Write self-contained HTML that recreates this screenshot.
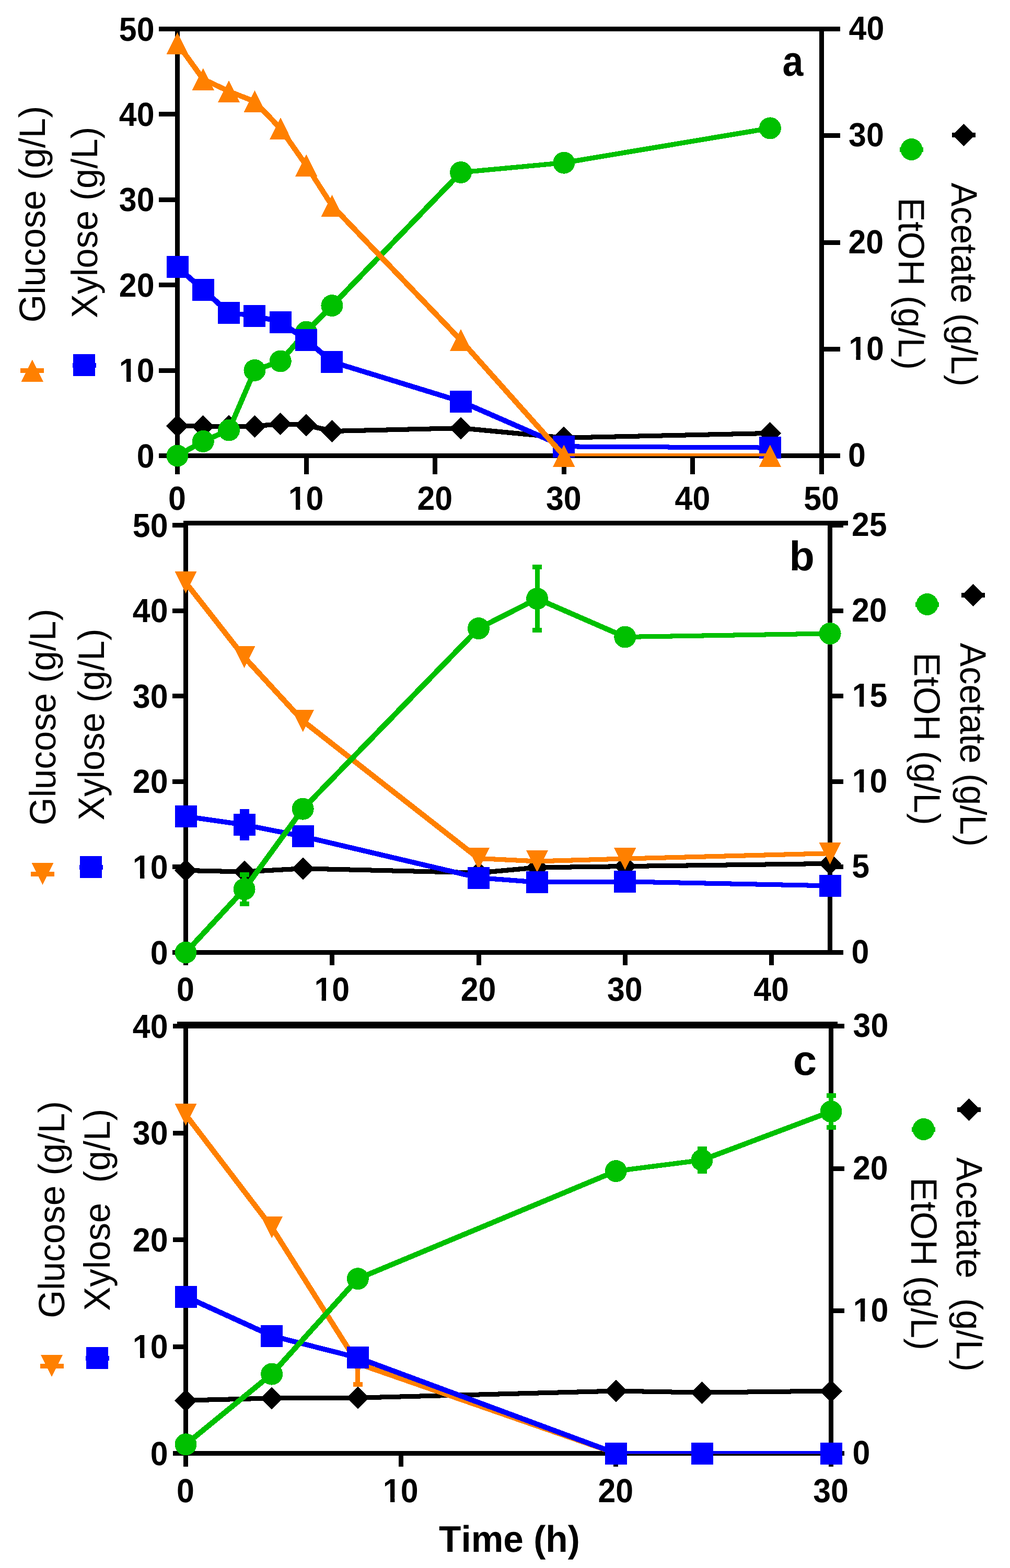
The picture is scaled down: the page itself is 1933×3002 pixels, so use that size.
<!DOCTYPE html>
<html lang="en"><head><meta charset="utf-8"><title>Fermentation time courses</title>
<style>
html,body{margin:0;padding:0;background:#fff;}
body{width:1933px;height:3002px;overflow:hidden;}
svg{display:block;font-family:"Liberation Sans",sans-serif;font-kerning:none;font-variant-ligatures:none;}
text{fill:#000;white-space:pre;}
</style></head><body>
<svg width="1933" height="3002" viewBox="0 0 1933 3002" shape-rendering="crispEdges" text-rendering="geometricPrecision">
<rect x="0" y="0" width="1933" height="3002" fill="#fff"/>
<g id="panel-a">
<clipPath id="clipA"><rect x="309.5" y="-4.5" width="1293" height="878"/></clipPath>
<rect x="335" y="51" width="9" height="857" fill="#000000"/>
<rect x="1568" y="51" width="9" height="857" fill="#000000"/>
<rect x="304" y="868" width="1304" height="9" fill="#000000"/>
<rect x="304" y="51" width="1304" height="9" fill="#000000"/>
<rect x="335" y="872.5" width="9" height="35.5" fill="#000000"/>
<text transform="translate(322.09 975.5) scale(0.9500 1.0000)" font-size="64" font-weight="bold">0</text>
<rect x="581.6" y="872.5" width="9" height="35.5" fill="#000000"/>
<text transform="translate(551.79 975.5) scale(0.9500 1.0000)" font-size="64" font-weight="bold">10</text>
<path d="M554.75,966.12H565.98V977H554.75ZM574.32,966.12H584.74V977H574.32Z" fill="#fff" shape-rendering="geometricPrecision"/>
<rect x="828.2" y="872.5" width="9" height="35.5" fill="#000000"/>
<text transform="translate(798.39 975.5) scale(0.9500 1.0000)" font-size="64" font-weight="bold">20</text>
<rect x="1074.8" y="872.5" width="9" height="35.5" fill="#000000"/>
<text transform="translate(1044.99 975.5) scale(0.9500 1.0000)" font-size="64" font-weight="bold">30</text>
<rect x="1321.4" y="872.5" width="9" height="35.5" fill="#000000"/>
<text transform="translate(1291.59 975.5) scale(0.9500 1.0000)" font-size="64" font-weight="bold">40</text>
<rect x="1568" y="872.5" width="9" height="35.5" fill="#000000"/>
<text transform="translate(1538.19 975.5) scale(0.9500 1.0000)" font-size="64" font-weight="bold">50</text>
<rect x="304" y="868" width="35.5" height="9" fill="#000000"/>
<text transform="translate(261.68 894.5) scale(0.9500 1.0000)" font-size="64" font-weight="bold">0</text>
<rect x="304" y="704.6" width="35.5" height="9" fill="#000000"/>
<text transform="translate(227.87 731.1) scale(0.9500 1.0000)" font-size="64" font-weight="bold">10</text>
<path d="M230.83,721.73H242.06V732.6H230.83ZM250.4,721.73H260.82V732.6H250.4Z" fill="#fff" shape-rendering="geometricPrecision"/>
<rect x="304" y="541.2" width="35.5" height="9" fill="#000000"/>
<text transform="translate(227.87 567.7) scale(0.9500 1.0000)" font-size="64" font-weight="bold">20</text>
<rect x="304" y="377.8" width="35.5" height="9" fill="#000000"/>
<text transform="translate(227.87 404.3) scale(0.9500 1.0000)" font-size="64" font-weight="bold">30</text>
<rect x="304" y="214.4" width="35.5" height="9" fill="#000000"/>
<text transform="translate(227.87 240.9) scale(0.9500 1.0000)" font-size="64" font-weight="bold">40</text>
<rect x="304" y="51" width="35.5" height="9" fill="#000000"/>
<text transform="translate(227.87 77.5) scale(0.9500 1.0000)" font-size="64" font-weight="bold">50</text>
<rect x="1572.5" y="868" width="35.5" height="9" fill="#000000"/>
<text transform="translate(1623.1 893) scale(0.9500 1.0000)" font-size="64" font-weight="bold">0</text>
<rect x="1572.5" y="663.75" width="35.5" height="9" fill="#000000"/>
<text transform="translate(1624.17 688.75) scale(0.9500 1.0000)" font-size="64" font-weight="bold">10</text>
<path d="M1627.14,679.38H1638.36V690.25H1627.14ZM1646.7,679.38H1657.12V690.25H1646.7Z" fill="#fff" shape-rendering="geometricPrecision"/>
<rect x="1572.5" y="459.5" width="35.5" height="9" fill="#000000"/>
<text transform="translate(1623.39 484.5) scale(0.9500 1.0000)" font-size="64" font-weight="bold">20</text>
<rect x="1572.5" y="255.25" width="35.5" height="9" fill="#000000"/>
<text transform="translate(1624.1 280.25) scale(0.9500 1.0000)" font-size="64" font-weight="bold">30</text>
<rect x="1572.5" y="51" width="35.5" height="9" fill="#000000"/>
<text transform="translate(1624.58 76) scale(0.9500 1.0000)" font-size="64" font-weight="bold">40</text>
<g stroke="#000000" fill="none" stroke-linecap="butt" clip-path="url(#clipA)">
<path d="M339.5,815.31L388.82,816.33" stroke-width="9.06"/>
<path d="M388.82,816.33L438.14,816.13" stroke-width="9.01"/>
<path d="M438.14,816.13L487.46,816.13" stroke-width="9"/>
<path d="M487.46,816.13L536.78,811.43" stroke-width="9.26"/>
<path d="M536.78,811.43L586.1,813.68" stroke-width="9.13"/>
<path d="M586.1,813.68L635.42,825.52" stroke-width="9.64"/>
<path d="M635.42,825.52L882.02,819.6" stroke-width="9.07"/>
<path d="M882.02,819.6L1079.3,838.19" stroke-width="9.26"/>
<path d="M1079.3,838.19L1473.86,829.4" stroke-width="9.06"/>
</g>
<polygon points="339.5,793.81 361,815.31 339.5,836.81 318,815.31" fill="#000000"/>
<polygon points="388.82,794.83 410.32,816.33 388.82,837.83 367.32,816.33" fill="#000000"/>
<polygon points="438.14,794.63 459.64,816.13 438.14,837.63 416.64,816.13" fill="#000000"/>
<polygon points="487.46,794.63 508.96,816.13 487.46,837.63 465.96,816.13" fill="#000000"/>
<polygon points="536.78,789.93 558.28,811.43 536.78,832.93 515.28,811.43" fill="#000000"/>
<polygon points="586.1,792.18 607.6,813.68 586.1,835.18 564.6,813.68" fill="#000000"/>
<polygon points="635.42,804.02 656.92,825.52 635.42,847.02 613.92,825.52" fill="#000000"/>
<polygon points="882.02,798.1 903.52,819.6 882.02,841.1 860.52,819.6" fill="#000000"/>
<polygon points="1079.3,816.69 1100.8,838.19 1079.3,859.69 1057.8,838.19" fill="#000000"/>
<polygon points="1473.86,807.9 1495.36,829.4 1473.86,850.9 1452.36,829.4" fill="#000000"/>
<g stroke="#00C000" fill="none" stroke-linecap="butt" clip-path="url(#clipA)">
<path d="M339.5,872.5L388.82,844.93" stroke-width="10.19"/>
<path d="M388.82,844.93L438.14,823.48" stroke-width="10.02"/>
<path d="M438.14,823.48L487.46,708.9" stroke-width="10.02"/>
<path d="M487.46,708.9L536.78,691.53" stroke-width="9.88"/>
<path d="M536.78,691.53L586.1,635.57" stroke-width="10.39"/>
<path d="M586.1,635.57L635.42,585.12" stroke-width="10.4"/>
<path d="M635.42,585.12L882.02,330.01" stroke-width="10.4"/>
<path d="M882.02,330.01L1079.3,311.63" stroke-width="9.26"/>
<path d="M1079.3,311.63L1473.86,245.45" stroke-width="9.46"/>
</g>
<circle cx="339.5" cy="872.5" r="21" fill="#00C000"/>
<circle cx="388.82" cy="844.93" r="21" fill="#00C000"/>
<circle cx="438.14" cy="823.48" r="21" fill="#00C000"/>
<circle cx="487.46" cy="708.9" r="21" fill="#00C000"/>
<circle cx="536.78" cy="691.53" r="21" fill="#00C000"/>
<circle cx="586.1" cy="635.57" r="21" fill="#00C000"/>
<circle cx="635.42" cy="585.12" r="21" fill="#00C000"/>
<circle cx="882.02" cy="330.01" r="21" fill="#00C000"/>
<circle cx="1079.3" cy="311.63" r="21" fill="#00C000"/>
<circle cx="1473.86" cy="245.45" r="21" fill="#00C000"/>
<g stroke="#0000FF" fill="none" stroke-linecap="butt" clip-path="url(#clipA)">
<path d="M339.5,511.39L388.82,554.69" stroke-width="10.39"/>
<path d="M388.82,554.69L438.14,598.81" stroke-width="10.39"/>
<path d="M438.14,598.81L487.46,604.52" stroke-width="9.32"/>
<path d="M487.46,604.52L536.78,616.62" stroke-width="9.65"/>
<path d="M536.78,616.62L586.1,650.6" stroke-width="10.31"/>
<path d="M586.1,650.6L635.42,692.76" stroke-width="10.38"/>
<path d="M635.42,692.76L882.02,768.58" stroke-width="9.79"/>
<path d="M882.02,768.58L1079.3,854.85" stroke-width="10.03"/>
<path d="M1079.3,854.85L1473.86,857.14" stroke-width="9.02"/>
</g>
<rect x="318.5" y="490.39" width="42" height="42" fill="#0000FF"/>
<rect x="367.82" y="533.69" width="42" height="42" fill="#0000FF"/>
<rect x="417.14" y="577.81" width="42" height="42" fill="#0000FF"/>
<rect x="466.46" y="583.52" width="42" height="42" fill="#0000FF"/>
<rect x="515.78" y="595.62" width="42" height="42" fill="#0000FF"/>
<rect x="565.1" y="629.6" width="42" height="42" fill="#0000FF"/>
<rect x="614.42" y="671.76" width="42" height="42" fill="#0000FF"/>
<rect x="861.02" y="747.58" width="42" height="42" fill="#0000FF"/>
<rect x="1058.3" y="833.85" width="42" height="42" fill="#0000FF"/>
<rect x="1452.86" y="836.14" width="42" height="42" fill="#0000FF"/>
<g stroke="#FF8000" fill="none" stroke-linecap="butt" clip-path="url(#clipA)">
<path d="M339.5,83.28L388.82,151.58" stroke-width="10.33"/>
<path d="M388.82,151.58L438.14,174.78" stroke-width="10.08"/>
<path d="M438.14,174.78L487.46,194.39" stroke-width="9.96"/>
<path d="M487.46,194.39L536.78,246.02" stroke-width="10.4"/>
<path d="M536.78,246.02L586.1,316.61" stroke-width="10.31"/>
<path d="M586.1,316.61L635.42,393.74" stroke-width="10.27"/>
<path d="M635.42,393.74L882.02,651.42" stroke-width="10.4"/>
<path d="M882.02,651.42L1079.3,872.5" stroke-width="10.39"/>
<path d="M1079.3,872.5L1473.86,872.5" stroke-width="9"/>
</g>
<polygon points="339.5,62.28 318.5,104.28 360.5,104.28" fill="#FF8000"/>
<polygon points="388.82,130.58 367.82,172.58 409.82,172.58" fill="#FF8000"/>
<polygon points="438.14,153.78 417.14,195.78 459.14,195.78" fill="#FF8000"/>
<polygon points="487.46,173.39 466.46,215.39 508.46,215.39" fill="#FF8000"/>
<polygon points="536.78,225.02 515.78,267.02 557.78,267.02" fill="#FF8000"/>
<polygon points="586.1,295.61 565.1,337.61 607.1,337.61" fill="#FF8000"/>
<polygon points="635.42,372.74 614.42,414.74 656.42,414.74" fill="#FF8000"/>
<polygon points="882.02,630.42 861.02,672.42 903.02,672.42" fill="#FF8000"/>
<polygon points="1079.3,851.5 1058.3,893.5 1100.3,893.5" fill="#FF8000"/>
<polygon points="1473.86,851.5 1452.86,893.5 1494.86,893.5" fill="#FF8000"/>
<text transform="translate(1497.6 144.5) scale(0.8850 1.0000)" font-size="81" font-weight="bold">a</text>
<text transform="translate(86 617.48) rotate(-90) scale(1.0014 1.0200)" font-size="69">Glucose (g/L)</text>
<rect x="39" y="705" width="45" height="9" fill="#FF8000"/>
<polygon points="61.5,688.5 40.5,730.5 82.5,730.5" fill="#FF8000"/>
<text transform="translate(186 609.04) rotate(-90) scale(0.9950 1.0200)" font-size="69">Xylose (g/L)</text>
<rect x="138.5" y="694.5" width="45" height="9" fill="#0000FF"/>
<rect x="140" y="678" width="42" height="42" fill="#0000FF"/>
<text transform="translate(1720 378.34) rotate(90) scale(0.9994 1.0200)" font-size="69">EtOH (g/L)</text>
<rect x="1722" y="281.5" width="45" height="9" fill="#00C000"/>
<circle cx="1744.5" cy="286" r="21" fill="#00C000"/>
<text transform="translate(1820.5 349.87) rotate(90) scale(0.9874 1.0200)" font-size="69">Acetate (g/L)</text>
<rect x="1822" y="254" width="45" height="9" fill="#000000"/>
<polygon points="1844.5,237 1866,258.5 1844.5,280 1823,258.5" fill="#000000"/>
</g>
<g id="panel-b">
<clipPath id="clipB"><rect x="325.5" y="945.5" width="1293" height="879"/></clipPath>
<rect x="351" y="997" width="9" height="851" fill="#000000"/>
<rect x="1584" y="997" width="9" height="831" fill="#000000"/>
<rect x="330" y="1819" width="1284" height="9" fill="#000000"/>
<rect x="351" y="997" width="1272" height="9" fill="#000000"/>
<rect x="351" y="1823.5" width="9" height="24.5" fill="#000000"/>
<text transform="translate(338.09 1915.5) scale(0.9500 1.0000)" font-size="64" font-weight="bold">0</text>
<rect x="631.25" y="1823.5" width="9" height="24.5" fill="#000000"/>
<text transform="translate(601.44 1915.5) scale(0.9500 1.0000)" font-size="64" font-weight="bold">10</text>
<path d="M604.4,1906.12H615.63V1917H604.4ZM623.97,1906.12H634.39V1917H623.97Z" fill="#fff" shape-rendering="geometricPrecision"/>
<rect x="911.5" y="1823.5" width="9" height="24.5" fill="#000000"/>
<text transform="translate(881.69 1915.5) scale(0.9500 1.0000)" font-size="64" font-weight="bold">20</text>
<rect x="1191.75" y="1823.5" width="9" height="24.5" fill="#000000"/>
<text transform="translate(1161.94 1915.5) scale(0.9500 1.0000)" font-size="64" font-weight="bold">30</text>
<rect x="1472" y="1823.5" width="9" height="24.5" fill="#000000"/>
<text transform="translate(1442.19 1915.5) scale(0.9500 1.0000)" font-size="64" font-weight="bold">40</text>
<rect x="330" y="1819" width="25.5" height="9" fill="#000000"/>
<text transform="translate(287.68 1845.5) scale(0.9500 1.0000)" font-size="64" font-weight="bold">0</text>
<rect x="330" y="1655.4" width="25.5" height="9" fill="#000000"/>
<text transform="translate(253.87 1681.9) scale(0.9500 1.0000)" font-size="64" font-weight="bold">10</text>
<path d="M256.83,1672.53H268.06V1683.4H256.83ZM276.4,1672.53H286.82V1683.4H276.4Z" fill="#fff" shape-rendering="geometricPrecision"/>
<rect x="330" y="1491.8" width="25.5" height="9" fill="#000000"/>
<text transform="translate(253.87 1518.3) scale(0.9500 1.0000)" font-size="64" font-weight="bold">20</text>
<rect x="330" y="1328.2" width="25.5" height="9" fill="#000000"/>
<text transform="translate(253.87 1354.7) scale(0.9500 1.0000)" font-size="64" font-weight="bold">30</text>
<rect x="330" y="1164.6" width="25.5" height="9" fill="#000000"/>
<text transform="translate(253.87 1191.1) scale(0.9500 1.0000)" font-size="64" font-weight="bold">40</text>
<rect x="330" y="1001" width="25.5" height="9" fill="#000000"/>
<text transform="translate(253.87 1027.5) scale(0.9500 1.0000)" font-size="64" font-weight="bold">50</text>
<rect x="1588.5" y="1819" width="25.5" height="9" fill="#000000"/>
<text transform="translate(1629.6 1844) scale(0.9500 1.0000)" font-size="64" font-weight="bold">0</text>
<rect x="1588.5" y="1655.4" width="25.5" height="9" fill="#000000"/>
<text transform="translate(1630.13 1680.4) scale(0.9500 1.0000)" font-size="64" font-weight="bold">5</text>
<rect x="1588.5" y="1491.8" width="25.5" height="9" fill="#000000"/>
<text transform="translate(1630.67 1516.8) scale(0.9500 1.0000)" font-size="64" font-weight="bold">10</text>
<path d="M1633.64,1507.42H1644.86V1518.3H1633.64ZM1653.2,1507.42H1663.62V1518.3H1653.2Z" fill="#fff" shape-rendering="geometricPrecision"/>
<rect x="1588.5" y="1328.2" width="25.5" height="9" fill="#000000"/>
<text transform="translate(1630.67 1353.2) scale(0.9500 1.0000)" font-size="64" font-weight="bold">15</text>
<path d="M1633.64,1343.83H1644.86V1354.7H1633.64ZM1653.2,1343.83H1663.62V1354.7H1653.2Z" fill="#fff" shape-rendering="geometricPrecision"/>
<rect x="1588.5" y="1164.6" width="25.5" height="9" fill="#000000"/>
<text transform="translate(1629.89 1189.6) scale(0.9500 1.0000)" font-size="64" font-weight="bold">20</text>
<rect x="1588.5" y="1001" width="25.5" height="9" fill="#000000"/>
<text transform="translate(1629.89 1026) scale(0.9500 1.0000)" font-size="64" font-weight="bold">25</text>
<g stroke="#000000" fill="none" stroke-linecap="butt" clip-path="url(#clipB)">
<path d="M355.5,1666.44L467.6,1669.06" stroke-width="9.07"/>
<path d="M467.6,1669.06L579.7,1662.84" stroke-width="9.15"/>
<path d="M579.7,1662.84L916,1671.02" stroke-width="9.07"/>
<path d="M916,1671.02L1028.1,1660.88" stroke-width="9.25"/>
<path d="M1028.1,1660.88L1196.25,1658.59" stroke-width="9.04"/>
<path d="M1196.25,1658.59L1588.6,1653.36" stroke-width="9.04"/>
</g>
<polygon points="355.5,1644.94 377,1666.44 355.5,1687.94 334,1666.44" fill="#000000"/>
<polygon points="467.6,1647.56 489.1,1669.06 467.6,1690.56 446.1,1669.06" fill="#000000"/>
<polygon points="579.7,1641.34 601.2,1662.84 579.7,1684.34 558.2,1662.84" fill="#000000"/>
<polygon points="916,1649.52 937.5,1671.02 916,1692.52 894.5,1671.02" fill="#000000"/>
<polygon points="1028.1,1639.38 1049.6,1660.88 1028.1,1682.38 1006.6,1660.88" fill="#000000"/>
<polygon points="1196.25,1637.09 1217.75,1658.59 1196.25,1680.09 1174.75,1658.59" fill="#000000"/>
<polygon points="1588.6,1631.86 1610.1,1653.36 1588.6,1674.86 1567.1,1653.36" fill="#000000"/>
<g stroke="#FF8000" fill="none" stroke-linecap="butt" clip-path="url(#clipB)">
<path d="M355.5,1115.44L467.6,1258.26" stroke-width="10.36"/>
<path d="M467.6,1258.26L579.7,1380.14" stroke-width="10.4"/>
<path d="M579.7,1380.14L916,1643.54" stroke-width="10.36"/>
<path d="M916,1643.54L1028.1,1648.94" stroke-width="9.13"/>
<path d="M1028.1,1648.94L1196.25,1644.03" stroke-width="9.08"/>
<path d="M1196.25,1644.03L1588.6,1633.72" stroke-width="9.07"/>
</g>
<polygon points="355.5,1136.44 334.5,1094.44 376.5,1094.44" fill="#FF8000"/>
<polygon points="467.6,1279.26 446.6,1237.26 488.6,1237.26" fill="#FF8000"/>
<polygon points="579.7,1401.14 558.7,1359.14 600.7,1359.14" fill="#FF8000"/>
<polygon points="916,1664.54 895,1622.54 937,1622.54" fill="#FF8000"/>
<polygon points="1028.1,1669.94 1007.1,1627.94 1049.1,1627.94" fill="#FF8000"/>
<polygon points="1196.25,1665.03 1175.25,1623.03 1217.25,1623.03" fill="#FF8000"/>
<polygon points="1588.6,1654.72 1567.6,1612.72 1609.6,1612.72" fill="#FF8000"/>
<rect x="463.1" y="1549.08" width="9" height="60" fill="#0000FF"/>
<rect x="458.6" y="1549.08" width="18" height="9" fill="#0000FF"/>
<rect x="458.6" y="1600.08" width="18" height="9" fill="#0000FF"/>
<g stroke="#0000FF" fill="none" stroke-linecap="butt" clip-path="url(#clipB)">
<path d="M355.5,1563.05L467.6,1579.08" stroke-width="9.39"/>
<path d="M467.6,1579.08L579.7,1601.33" stroke-width="9.53"/>
<path d="M579.7,1601.33L916,1680.51" stroke-width="9.62"/>
<path d="M916,1680.51L1028.1,1689.02" stroke-width="9.21"/>
<path d="M1028.1,1689.02L1196.25,1687.88" stroke-width="9.02"/>
<path d="M1196.25,1687.88L1588.6,1695.89" stroke-width="9.06"/>
</g>
<rect x="334.5" y="1542.05" width="42" height="42" fill="#0000FF"/>
<rect x="446.6" y="1558.08" width="42" height="42" fill="#0000FF"/>
<rect x="558.7" y="1580.33" width="42" height="42" fill="#0000FF"/>
<rect x="895" y="1659.51" width="42" height="42" fill="#0000FF"/>
<rect x="1007.1" y="1668.02" width="42" height="42" fill="#0000FF"/>
<rect x="1175.25" y="1666.88" width="42" height="42" fill="#0000FF"/>
<rect x="1567.6" y="1674.89" width="42" height="42" fill="#0000FF"/>
<rect x="463.1" y="1669.94" width="9" height="65" fill="#00C000"/>
<rect x="458.6" y="1669.94" width="18" height="9" fill="#00C000"/>
<rect x="458.6" y="1725.94" width="18" height="9" fill="#00C000"/>
<rect x="1023.6" y="1081.2" width="9" height="130" fill="#00C000"/>
<rect x="1019.1" y="1081.2" width="18" height="9" fill="#00C000"/>
<rect x="1019.1" y="1202.2" width="18" height="9" fill="#00C000"/>
<g stroke="#00C000" fill="none" stroke-linecap="butt" clip-path="url(#clipB)">
<path d="M355.5,1823.5L467.6,1702.44" stroke-width="10.4"/>
<path d="M467.6,1702.44L579.7,1548.65" stroke-width="10.33"/>
<path d="M579.7,1548.65L916,1203.13" stroke-width="10.4"/>
<path d="M916,1203.13L1028.1,1146.2" stroke-width="10.13"/>
<path d="M1028.1,1146.2L1196.25,1219.49" stroke-width="10.03"/>
<path d="M1196.25,1219.49L1588.6,1212.94" stroke-width="9.05"/>
</g>
<circle cx="355.5" cy="1823.5" r="21" fill="#00C000"/>
<circle cx="467.6" cy="1702.44" r="21" fill="#00C000"/>
<circle cx="579.7" cy="1548.65" r="21" fill="#00C000"/>
<circle cx="916" cy="1203.13" r="21" fill="#00C000"/>
<circle cx="1028.1" cy="1146.2" r="21" fill="#00C000"/>
<circle cx="1196.25" cy="1219.49" r="21" fill="#00C000"/>
<circle cx="1588.6" cy="1212.94" r="21" fill="#00C000"/>
<text transform="translate(1510.59 1092.3) scale(0.9950 1.0000)" font-size="79.5" font-weight="bold">b</text>
<text transform="translate(105.6 1580.28) rotate(-90) scale(1.0014 1.0200)" font-size="69">Glucose (g/L)</text>
<rect x="59" y="1668.8" width="45" height="9" fill="#FF8000"/>
<polygon points="81.5,1694.3 60.5,1652.3 102.5,1652.3" fill="#FF8000"/>
<text transform="translate(198.8 1570.85) rotate(-90) scale(0.9977 1.0200)" font-size="69">Xylose (g/L)</text>
<rect x="151.5" y="1655.5" width="45" height="9" fill="#0000FF"/>
<rect x="153" y="1639" width="42" height="42" fill="#0000FF"/>
<text transform="translate(1749.8 1249.33) rotate(90) scale(1.0019 1.0200)" font-size="69">EtOH (g/L)</text>
<rect x="1752" y="1152.5" width="45" height="9" fill="#00C000"/>
<circle cx="1774.5" cy="1157" r="21" fill="#00C000"/>
<text transform="translate(1838 1230.87) rotate(90) scale(0.9877 1.0200)" font-size="69">Acetate (g/L)</text>
<rect x="1840" y="1135" width="45" height="9" fill="#000000"/>
<polygon points="1862.5,1118 1884,1139.5 1862.5,1161 1841,1139.5" fill="#000000"/>
</g>
<g id="panel-c">
<clipPath id="clipC"><rect x="325.5" y="1904.5" width="1295" height="879"/></clipPath>
<rect x="351" y="1956" width="9" height="852" fill="#000000"/>
<rect x="1586" y="1956" width="9" height="852" fill="#000000"/>
<rect x="331" y="2778" width="1285" height="9" fill="#000000"/>
<rect x="339" y="1956" width="1264" height="13" fill="#000000"/>
<rect x="351" y="2782.5" width="9" height="25.5" fill="#000000"/>
<text transform="translate(338.09 2875.5) scale(0.9500 1.0000)" font-size="64" font-weight="bold">0</text>
<rect x="762.67" y="2782.5" width="9" height="25.5" fill="#000000"/>
<text transform="translate(732.85 2875.5) scale(0.9500 1.0000)" font-size="64" font-weight="bold">10</text>
<path d="M735.82,2866.12H747.04V2877H735.82ZM755.39,2866.12H765.81V2877H755.39Z" fill="#fff" shape-rendering="geometricPrecision"/>
<rect x="1174.33" y="2782.5" width="9" height="25.5" fill="#000000"/>
<text transform="translate(1144.52 2875.5) scale(0.9500 1.0000)" font-size="64" font-weight="bold">20</text>
<rect x="1586" y="2782.5" width="9" height="25.5" fill="#000000"/>
<text transform="translate(1556.19 2875.5) scale(0.9500 1.0000)" font-size="64" font-weight="bold">30</text>
<rect x="331" y="2778" width="24.5" height="9" fill="#000000"/>
<text transform="translate(287.68 2804.5) scale(0.9500 1.0000)" font-size="64" font-weight="bold">0</text>
<rect x="331" y="2573.5" width="24.5" height="9" fill="#000000"/>
<text transform="translate(253.87 2600) scale(0.9500 1.0000)" font-size="64" font-weight="bold">10</text>
<path d="M256.83,2590.62H268.06V2601.5H256.83ZM276.4,2590.62H286.82V2601.5H276.4Z" fill="#fff" shape-rendering="geometricPrecision"/>
<rect x="331" y="2369" width="24.5" height="9" fill="#000000"/>
<text transform="translate(253.87 2395.5) scale(0.9500 1.0000)" font-size="64" font-weight="bold">20</text>
<rect x="331" y="2164.5" width="24.5" height="9" fill="#000000"/>
<text transform="translate(253.87 2191) scale(0.9500 1.0000)" font-size="64" font-weight="bold">30</text>
<rect x="331" y="1960" width="24.5" height="9" fill="#000000"/>
<text transform="translate(253.87 1986.5) scale(0.9500 1.0000)" font-size="64" font-weight="bold">40</text>
<rect x="1590.5" y="2778" width="25.5" height="9" fill="#000000"/>
<text transform="translate(1631.6 2803) scale(0.9500 1.0000)" font-size="64" font-weight="bold">0</text>
<rect x="1590.5" y="2505.33" width="25.5" height="9" fill="#000000"/>
<text transform="translate(1632.67 2530.33) scale(0.9500 1.0000)" font-size="64" font-weight="bold">10</text>
<path d="M1635.64,2520.96H1646.86V2531.83H1635.64ZM1655.2,2520.96H1665.62V2531.83H1655.2Z" fill="#fff" shape-rendering="geometricPrecision"/>
<rect x="1590.5" y="2232.67" width="25.5" height="9" fill="#000000"/>
<text transform="translate(1631.89 2257.67) scale(0.9500 1.0000)" font-size="64" font-weight="bold">20</text>
<rect x="1590.5" y="1960" width="25.5" height="9" fill="#000000"/>
<text transform="translate(1632.6 1985) scale(0.9500 1.0000)" font-size="64" font-weight="bold">30</text>
<g stroke="#000000" fill="none" stroke-linecap="butt" clip-path="url(#clipC)">
<path d="M355.5,2681.07L520.17,2676.98" stroke-width="9.07"/>
<path d="M520.17,2676.98L684.83,2676.16" stroke-width="9.01"/>
<path d="M684.83,2676.16L1178.83,2663.07" stroke-width="9.07"/>
<path d="M1178.83,2663.07L1343.5,2666.07" stroke-width="9.05"/>
<path d="M1343.5,2666.07L1590.5,2663.07" stroke-width="9.03"/>
</g>
<polygon points="355.5,2659.57 377,2681.07 355.5,2702.57 334,2681.07" fill="#000000"/>
<polygon points="520.17,2655.48 541.67,2676.98 520.17,2698.48 498.67,2676.98" fill="#000000"/>
<polygon points="684.83,2654.66 706.33,2676.16 684.83,2697.66 663.33,2676.16" fill="#000000"/>
<polygon points="1178.83,2641.57 1200.33,2663.07 1178.83,2684.57 1157.33,2663.07" fill="#000000"/>
<polygon points="1343.5,2644.57 1365,2666.07 1343.5,2687.57 1322,2666.07" fill="#000000"/>
<polygon points="1590.5,2641.57 1612,2663.07 1590.5,2684.57 1569,2663.07" fill="#000000"/>
<rect x="680.33" y="2610.72" width="9" height="44" fill="#FF8000"/>
<rect x="675.83" y="2645.72" width="18" height="9" fill="#FF8000"/>
<g stroke="#FF8000" fill="none" stroke-linecap="butt" clip-path="url(#clipC)">
<path d="M355.5,2134.24L520.17,2349.78" stroke-width="10.35"/>
<path d="M520.17,2349.78L684.83,2610.72" stroke-width="10.26"/>
<path d="M684.83,2610.72L1178.83,2782.5" stroke-width="9.87"/>
<path d="M1178.83,2782.5L1343.5,2782.5" stroke-width="9"/>
<path d="M1343.5,2782.5L1590.5,2782.5" stroke-width="9"/>
</g>
<polygon points="355.5,2155.24 334.5,2113.24 376.5,2113.24" fill="#FF8000"/>
<polygon points="520.17,2370.78 499.17,2328.78 541.17,2328.78" fill="#FF8000"/>
<polygon points="684.83,2631.72 663.83,2589.72 705.83,2589.72" fill="#FF8000"/>
<polygon points="1178.83,2803.5 1157.83,2761.5 1199.83,2761.5" fill="#FF8000"/>
<polygon points="1343.5,2803.5 1322.5,2761.5 1364.5,2761.5" fill="#FF8000"/>
<polygon points="1590.5,2803.5 1569.5,2761.5 1611.5,2761.5" fill="#FF8000"/>
<g stroke="#0000FF" fill="none" stroke-linecap="butt" clip-path="url(#clipC)">
<path d="M355.5,2482.5L520.17,2557.55" stroke-width="10.06"/>
<path d="M520.17,2557.55L684.83,2599.47" stroke-width="9.67"/>
<path d="M684.83,2599.47L1178.83,2782.5" stroke-width="9.91"/>
<path d="M1178.83,2782.5L1343.5,2782.5" stroke-width="9"/>
<path d="M1343.5,2782.5L1590.5,2782.5" stroke-width="9"/>
</g>
<rect x="334.5" y="2461.5" width="42" height="42" fill="#0000FF"/>
<rect x="499.17" y="2536.55" width="42" height="42" fill="#0000FF"/>
<rect x="663.83" y="2578.47" width="42" height="42" fill="#0000FF"/>
<rect x="1157.83" y="2761.5" width="42" height="42" fill="#0000FF"/>
<rect x="1322.5" y="2761.5" width="42" height="42" fill="#0000FF"/>
<rect x="1569.5" y="2761.5" width="42" height="42" fill="#0000FF"/>
<rect x="1339" y="2194.78" width="9" height="52.6" fill="#00C000"/>
<rect x="1334.5" y="2194.78" width="18" height="9" fill="#00C000"/>
<rect x="1334.5" y="2238.38" width="18" height="9" fill="#00C000"/>
<rect x="1586" y="2093.4" width="9" height="69.4" fill="#00C000"/>
<rect x="1581.5" y="2093.4" width="18" height="9" fill="#00C000"/>
<rect x="1581.5" y="2153.8" width="18" height="9" fill="#00C000"/>
<g stroke="#00C000" fill="none" stroke-linecap="butt" clip-path="url(#clipC)">
<path d="M355.5,2765.32L520.17,2630.62" stroke-width="10.37"/>
<path d="M520.17,2630.62L684.83,2448.21" stroke-width="10.39"/>
<path d="M684.83,2448.21L1178.83,2242.07" stroke-width="10"/>
<path d="M1178.83,2242.07L1343.5,2221.08" stroke-width="9.35"/>
<path d="M1343.5,2221.08L1590.5,2128.1" stroke-width="9.92"/>
</g>
<circle cx="355.5" cy="2765.32" r="21" fill="#00C000"/>
<circle cx="520.17" cy="2630.62" r="21" fill="#00C000"/>
<circle cx="684.83" cy="2448.21" r="21" fill="#00C000"/>
<circle cx="1178.83" cy="2242.07" r="21" fill="#00C000"/>
<circle cx="1343.5" cy="2221.08" r="21" fill="#00C000"/>
<circle cx="1590.5" cy="2128.1" r="21" fill="#00C000"/>
<text transform="translate(1517.81 2058) scale(1.0080 1.0000)" font-size="81" font-weight="bold">c</text>
<text transform="translate(122.8 2523.78) rotate(-90) scale(1.0039 1.0200)" font-size="69">Glucose (g/L)</text>
<rect x="76.5" y="2610.9" width="45" height="9" fill="#FF8000"/>
<polygon points="99,2636.4 78,2594.4 120,2594.4" fill="#FF8000"/>
<text transform="translate(209.6 2509.65) rotate(-90) scale(0.9987 1.0200)" font-size="69">Xylose  (g/L)</text>
<rect x="163.5" y="2595.5" width="45" height="9" fill="#0000FF"/>
<rect x="165" y="2579" width="42" height="42" fill="#0000FF"/>
<text transform="translate(1743.8 2254.32) rotate(90) scale(1.0031 1.0200)" font-size="69">EtOH (g/L)</text>
<rect x="1745.1" y="2157.5" width="45" height="9" fill="#00C000"/>
<circle cx="1767.6" cy="2162" r="21" fill="#00C000"/>
<text transform="translate(1830.6 2215.87) rotate(90) scale(0.9900 1.0200)" font-size="69">Acetate  (g/L)</text>
<rect x="1831.8" y="2120" width="45" height="9" fill="#000000"/>
<polygon points="1854.3,2103 1875.8,2124.5 1854.3,2146 1832.8,2124.5" fill="#000000"/>
</g>
<text transform="translate(840.02 2971) scale(0.9770 1.0000)" font-size="71" font-weight="bold">Time (h)</text>
</svg></body></html>
